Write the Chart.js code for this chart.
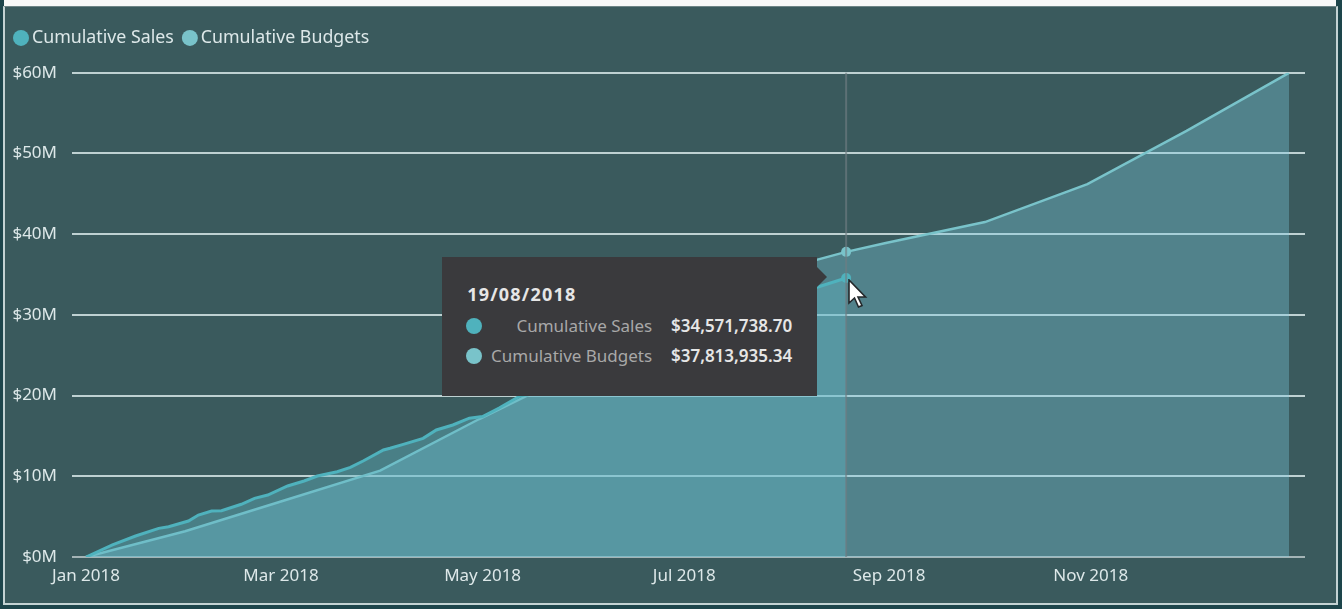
<!DOCTYPE html>
<html>
<head>
<meta charset="utf-8">
<script src="https://cdn.jsdelivr.net/npm/chart.js@4/dist/chart.umd.min.js"></script>
<style>
  html, body { margin: 0; padding: 0; width: 1342px; height: 609px; overflow: hidden; background: #1d454b; font-family: "Noto Sans", sans-serif; }
  #topStrip { position: absolute; left: 4px; top: 0; width: 1332px; height: 6px; background: #f7f8f8; }
  #frame { position: absolute; left: 3px; top: 6px; width: 1331px; height: 596px; background: #3a5a5d; border: 2px solid #c3d2d3; border-top: 1px solid #6d8486; }
  #chart { position: absolute; left: 0; top: 0; }
  #tip { position: absolute; width: 375px; height: 139px; background: #3a3a3d; color: #e6e6e6; }
  #tip:after { content: ""; position: absolute; left: 375px; top: 10px; border-left: 10px solid #3a3a3d; border-top: 10.5px solid transparent; border-bottom: 10.5px solid transparent; }
  #tipDate { position: absolute; left: 25px; top: 25px; font-size: 18px; line-height: 24px; font-weight: 700; letter-spacing: 1.2px; }
  .row { position: absolute; left: 0; width: 375px; height: 24px; font-size: 17px; line-height: 24px; }
  .dot { position: absolute; left: 24px; top: 4px; width: 16px; height: 16px; border-radius: 50%; }
  .name { position: absolute; right: 165px; color: #a8a8a8; white-space: nowrap; }
  .val { position: absolute; right: 25px; font-weight: 600; white-space: nowrap; }
  #pointer { position: absolute; }
</style>
</head>
<body>
<div id="topStrip"></div>
<div id="frame"></div>
<canvas id="chart" width="1342" height="609"></canvas>
<div id="tip">
  <div id="tipDate"></div>
  <div class="row" style="top:57px"><span class="dot" id="dotA"></span><span class="name" id="nameA"></span><span class="val" id="valA"></span></div>
  <div class="row" style="top:87px"><span class="dot" id="dotB"></span><span class="name" id="nameB"></span><span class="val" id="valB"></span></div>
</div>
<svg id="pointer" width="22" height="32" viewBox="0 0 22 32"><path d="M2 1 L2 24 L7.5 19 L11.5 28 L15 26.5 L11 18 L18.5 18 Z" fill="#fff" stroke="#23272a" stroke-width="1.6"/></svg>
<script>
// days are counted from 1 Jan 2018, values in $M
const salesDays = [0, 8, 15, 22, 25, 31, 34, 38, 41, 47, 51, 55, 61, 66, 70, 76, 80, 84, 90, 92, 96, 102, 106, 111, 116, 120, 125, 131, 145, 165, 185, 205, 221, 230]
const salesValues = [0, 1.5, 2.6, 3.55, 3.75, 4.46, 5.2, 5.7, 5.74, 6.53, 7.27, 7.68, 8.8, 9.42, 10.04, 10.57, 11.1, 11.93, 13.26, 13.47, 13.96, 14.7, 15.74, 16.36, 17.2, 17.4, 18.46, 19.87, 21.9, 24.9, 27.9, 30.9, 33.4, 34.5717387]
const budgetDays = [0, 30, 58, 89, 119, 150, 180, 211, 230, 242, 272, 303, 333, 364]
const budgetValues = [0, 3.2, 6.75, 10.7, 17.1, 23.3, 29.5, 35.7, 37.81393534, 38.9, 41.5, 46.2, 52.8, 60]
const tickDays = [0, 59, 120, 181, 243, 304]
const tickLabels = ["Jan 2018", "Mar 2018", "May 2018", "Jul 2018", "Sep 2018", "Nov 2018"]
const yTicks = [0, 10, 20, 30, 40, 50, 60]
const hoverDay = 230
const hoverDate = "19/08/2018"

const salesColor = "#4fb2bd"
const budgetColor = "#79c3ca"
const textColor = "#dde8e9"
const tickFont = { family: "'Noto Sans', sans-serif", size: 17 }

const toPoints = (days, values) => days.map((d, i) => ({ x: d, y: values[i] }))
const money = (m) => "$" + (m * 1000000).toLocaleString("en-US", { minimumFractionDigits: 2, maximumFractionDigits: 2 })

const buildDataset = (label, data, color, fill, width) => ({
  label,
  data,
  borderColor: color,
  backgroundColor: color,
  borderWidth: width,
  fill: { target: "origin", above: fill },
  tension: 0,
  pointBackgroundColor: color,
  pointBorderWidth: 0,
  pointRadius: (ctx) => ctx.raw && ctx.raw.x === hoverDay ? 5 : 0
})

// vertical hover line, same as the one the report draws at the hovered date
const hoverLine = {
  id: "hoverLine",
  afterDatasetsDraw(chart) {
    const { ctx, chartArea, scales } = chart
    const x = scales.x.getPixelForValue(hoverDay)
    ctx.save()
    ctx.strokeStyle = "rgba(112,124,130,0.65)"
    ctx.lineWidth = 2
    ctx.beginPath()
    ctx.moveTo(x, chartArea.top)
    ctx.lineTo(x, chartArea.bottom)
    ctx.stroke()
    ctx.restore()
  }
}

// extra room under the legend
const legendGap = {
  id: "legendGap",
  beforeInit(chart) {
    const fit = chart.legend.fit
    chart.legend.fit = function () {
      fit.call(this)
      this.height += 16
    }
  }
}

const chart = new Chart(document.getElementById("chart"), {
  type: "line",
  data: {
    datasets: [
      buildDataset("Cumulative Sales", toPoints(salesDays, salesValues), salesColor, "rgba(97,183,197,0.4)", 3),
      buildDataset("Cumulative Budgets", toPoints(budgetDays, budgetValues), budgetColor, "rgba(125,205,225,0.35)", 2.5)
    ]
  },
  options: {
    responsive: false,
    animation: false,
    events: [],
    layout: { padding: { left: 5, right: 37, top: 15, bottom: 0 } },
    plugins: {
      tooltip: { enabled: false },
      legend: {
        position: "top",
        align: "start",
        labels: {
          usePointStyle: true,
          pointStyle: "circle",
          boxWidth: 4,
          boxHeight: 11.3,
          padding: 14,
          color: textColor,
          font: { family: "'Noto Sans', sans-serif", size: 17.8 }
        }
      }
    },
    scales: {
      x: {
        type: "linear",
        min: -4.24,
        max: 368.84,
        afterBuildTicks: (axis) => { axis.ticks = tickDays.map((v) => ({ value: v })) },
        afterFit: (axis) => { axis.height = 52 },
        grid: { display: false },
        border: { display: false },
        ticks: {
          color: textColor,
          font: tickFont,
          maxRotation: 0,
          autoSkip: false,
          padding: 1,
          callback: (value) => tickLabels[tickDays.indexOf(value)]
        }
      },
      y: {
        min: 0,
        max: 60,
        afterBuildTicks: (axis) => { axis.ticks = yTicks.map((v) => ({ value: v })) },
        afterFit: (axis) => { axis.width = 67 },
        grid: {
          color: (ctx) => ctx.tick.value === 0 ? "rgba(170,185,186,0.95)" : "rgba(205,222,223,0.9)",
          lineWidth: 2,
          drawTicks: false
        },
        border: { display: false },
        ticks: {
          color: textColor,
          font: tickFont,
          padding: 15,
          callback: (value) => "$" + value + "M"
        }
      }
    }
  },
  plugins: [legendGap, hoverLine]
})

// tooltip box is html so that the two text columns can line up like the original
const hx = chart.scales.x.getPixelForValue(hoverDay)
const hy = chart.scales.y.getPixelForValue(salesValues[salesValues.length - 1])
const tip = document.getElementById("tip")
tip.style.left = (hx - 404) + "px"
tip.style.top = (hy - 21) + "px"
document.getElementById("tipDate").textContent = hoverDate
document.getElementById("dotA").style.background = salesColor
document.getElementById("dotB").style.background = budgetColor
document.getElementById("nameA").textContent = chart.data.datasets[0].label
document.getElementById("nameB").textContent = chart.data.datasets[1].label
document.getElementById("valA").textContent = money(salesValues[salesValues.length - 1])
document.getElementById("valB").textContent = money(budgetValues[budgetDays.indexOf(hoverDay)])
const pointer = document.getElementById("pointer")
pointer.style.left = (hx + 1) + "px"
pointer.style.top = (hy + 1) + "px"
</script>
</body>
</html>
